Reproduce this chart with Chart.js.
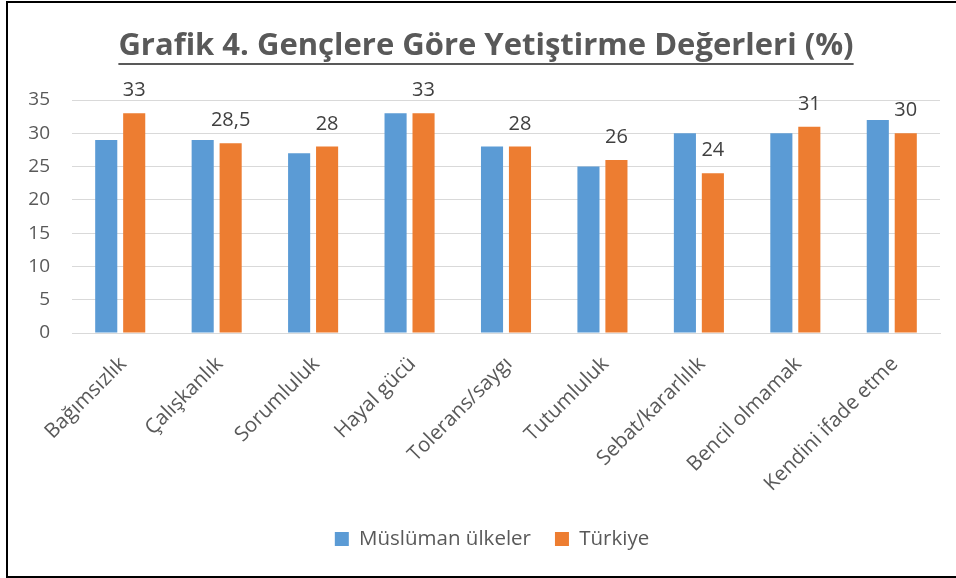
<!DOCTYPE html>
<html>
<head>
<meta charset="utf-8">
<script src="https://cdn.jsdelivr.net/npm/chart.js@4.4.1/dist/chart.umd.min.js"></script>
<style>
  html, body { margin: 0; padding: 0; background: #fff; overflow: hidden; }
  #wrap { position: absolute; left: 0; top: 0; width: 956px; height: 578px; }
  #frame { position: absolute; left: 6px; top: 1px; width: 960px; height: 573px;
           border-left: 2px solid #000; border-top: 2px solid #000; border-bottom: 2px solid #000; }
  canvas { position: absolute; left: 0; top: 0; }
</style>
</head>
<body>
<div id="wrap">
  <canvas id="c" width="956" height="578"></canvas>
  <div id="frame"></div>
</div>
<script>
const chartTitle = "Grafik 4. Gençlere Göre Yetiştirme Değerleri (%)";
const categories = ["Bağımsızlık", "Çalışkanlık", "Sorumluluk", "Hayal gücü", "Tolerans/saygı",
                    "Tutumluluk", "Sebat/kararlılık", "Bencil olmamak", "Kendini ifade etme"];
const seriesNames = ["Müslüman ülkeler", "Türkiye"];
const muslimValues = [29, 29, 27, 33, 28, 25, 30, 30, 32];
const turkeyValues = [33, 28.5, 28, 33, 28, 26, 24, 31, 30];
const turkeyLabels = ["33", "28,5", "28", "33", "28", "26", "24", "31", "30"];
const yTicks = [0, 5, 10, 15, 20, 25, 30, 35];

const FONT = "'Open Sans', sans-serif";
const TXT = "#595959";

// horizontal nudges for the title and legend blocks
const shiftBlocks = {
  id: 'shiftBlocks',
  beforeDraw(chart) {
    if (chart.titleBlock && !chart.titleBlock._shifted) {
      chart.titleBlock.left += 11; chart.titleBlock.right += 11; chart.titleBlock._shifted = true;
    }
    if (chart.legend && !chart.legend._shifted) {
      chart.legend.left += 17; chart.legend.right += 17; chart.legend._shifted = true;
    }
  }
};

const underlineTitle = {
  id: 'underlineTitle',
  afterDraw(chart) {
    const t = chart.titleBlock;
    if (!t) return;
    const ctx = chart.ctx;
    const f = chart.options.plugins.title.font;
    ctx.save();
    ctx.font = `bold ${f.size}px ${FONT}`;
    const w = ctx.measureText(chartTitle).width;
    const cx = (t.left + t.right) / 2;
    const cy = t.top + chart.options.plugins.title.padding.top + f.size * 1.2 / 2;
    const y = cy + f.size * 0.58;
    ctx.strokeStyle = TXT;
    ctx.lineWidth = 2;
    ctx.beginPath();
    ctx.moveTo(cx - w / 2, y);
    ctx.lineTo(cx + w / 2, y);
    ctx.stroke();
    ctx.restore();
  }
};

const dataLabels = {
  id: 'dataLabels',
  afterDatasetsDraw(chart) {
    const ctx = chart.ctx;
    const meta = chart.getDatasetMeta(1);
    ctx.save();
    ctx.font = `20px ${FONT}`;
    ctx.fillStyle = "#404040";
    ctx.textAlign = 'center';
    ctx.textBaseline = 'alphabetic';
    meta.data.forEach((bar, i) => {
      ctx.fillText(turkeyLabels[i], bar.x, bar.y - 17);
    });
    ctx.restore();
  }
};

new Chart(document.getElementById('c'), {
  type: 'bar',
  data: {
    labels: categories,
    datasets: [
      { label: seriesNames[0], data: muslimValues, backgroundColor: '#5B9BD5',
        categoryPercentage: 0.58, barPercentage: 0.79 },
      { label: seriesNames[1], data: turkeyValues, backgroundColor: '#ED7D31',
        categoryPercentage: 0.58, barPercentage: 0.79 }
    ]
  },
  plugins: [shiftBlocks, underlineTitle, dataLabels],
  options: {
    responsive: false,
    animation: false,
    devicePixelRatio: 1,
    layout: { padding: { left: 10, right: 16, top: 0, bottom: 18.75 } },
    plugins: {
      title: {
        display: true, text: chartTitle, color: TXT,
        font: { family: FONT, size: 31, weight: 'bold' },
        padding: { top: 27.4, bottom: 35.4 }
      },
      legend: {
        position: 'bottom',
        labels: { color: TXT, font: { family: FONT, size: 20.5 }, boxWidth: 14, boxHeight: 14, padding: 24 }
      },
      tooltip: { enabled: false }
    },
    scales: {
      x: {
        grid: { display: false, drawTicks: false },
        border: { display: true, color: '#d9d9d9', width: 1 },
        ticks: { color: TXT, font: { family: FONT, size: 20.5 }, maxRotation: 45, minRotation: 45, padding: 19, labelOffset: 3, autoSkip: false },
        afterFit(scale) { scale.height = 171.75; }
      },
      y: {
        min: 0, max: 35,
        afterBuildTicks(scale) { scale.ticks = yTicks.map(v => ({ value: v })); },
        grid: { color: '#d9d9d9', lineWidth: 1, drawTicks: false },
        border: { display: false },
        ticks: { color: TXT, font: { family: FONT, size: 19 }, padding: 22 },
        afterFit(scale) { scale.width = 62; }
      }
    }
  }
});
</script>
</body>
</html>
